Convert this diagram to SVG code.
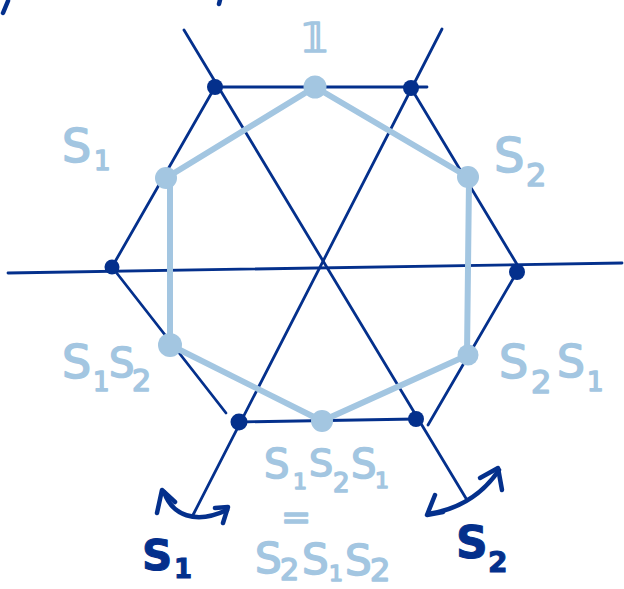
<svg xmlns="http://www.w3.org/2000/svg" width="624" height="589" viewBox="0 0 624 589">
<style>
.dk{stroke:#04308c;stroke-width:2.8;fill:none;stroke-linecap:round}
.lt{stroke:#a3c6e1;stroke-width:6;fill:none;stroke-linecap:round}
.dd{fill:#04308c}
.ld{fill:#a3c6e1}
.arr{stroke:#04308c;stroke-width:4.5;fill:none;stroke-linecap:round;stroke-linejoin:round}
.tl{fill:#a3c6e1;stroke:#a3c6e1;stroke-width:1.6;stroke-linejoin:round;font-family:"DejaVu Sans","Liberation Sans",sans-serif}
.td{fill:#04308c;stroke:#04308c;stroke-width:1;font-family:"DejaVu Sans","Liberation Sans",sans-serif;font-weight:bold}
</style>
<rect width="624" height="589" fill="#ffffff"/>
<g id="fragments">
<path class="arr" d="M8 1 L3 13" stroke-width="4"/>
<path class="arr" d="M220 0 L219 4" stroke-width="4"/>
</g>
<g id="connectors">
<path class="dk" d="M8 273 L622 263"/>
<path class="dk" d="M184 30 L467 500"/>
<path class="dk" d="M442 29 L193 515"/>
<path class="dk" d="M215 87 L427 87"/>
<path class="dk" d="M215 87 L112 267"/>
<path class="dk" d="M112 267 L226 413"/>
<path class="dk" d="M239 422 L416 419"/>
<path class="dk" d="M411 88 L518 266"/>
<path class="dk" d="M517 272 L428 425"/>
<path class="lt" d="M315 87 L166 178"/>
<path class="lt" d="M315 87 L468 177"/>
<path class="lt" d="M170 180 L170 345"/>
<path class="lt" d="M469 180 L467 355"/>
<path class="lt" d="M170 345 L322 421"/>
<path class="lt" d="M468 355 L322 421"/>
<path class="arr" d="M164 492 C172 515 195 525 227 510"/>
<path class="arr" d="M157 513 L162 490 L175 502"/>
<path class="arr" d="M215 508 L228 507 L223 523"/>
<path class="arr" d="M428 514 C455 510 480 498 499 470"/>
<path class="arr" d="M435 495 L427 515 L443 512"/>
<path class="arr" d="M480 478 L498 468 L502 490"/>
</g>
<g id="v1"><circle class="dd" cx="215" cy="87" r="8"/></g>
<g id="v2"><circle class="dd" cx="411" cy="88" r="8"/></g>
<g id="v3"><circle class="dd" cx="112" cy="267" r="7.5"/></g>
<g id="v4"><circle class="dd" cx="517" cy="272" r="8"/></g>
<g id="v5"><circle class="dd" cx="239" cy="422" r="8.5"/></g>
<g id="v6"><circle class="dd" cx="416" cy="419" r="8"/></g>
<g id="e"><circle class="ld" cx="315" cy="87" r="11.5"/><text class="tl" x="315" y="52" font-size="40" text-anchor="middle">𝟙</text></g>
<g id="s1"><circle class="ld" cx="166" cy="178" r="11"/><text class="tl" x="62" y="162" font-size="46">S</text><text class="tl" x="94" y="170" font-size="26">1</text></g>
<g id="s2"><circle class="ld" cx="468" cy="177" r="11"/><text class="tl" x="494" y="172" font-size="48">S</text><text class="tl" x="526" y="186" font-size="32">2</text></g>
<g id="s1s2"><circle class="ld" cx="170" cy="345" r="12"/><text class="tl" x="62" y="378" font-size="46">S</text><text class="tl" x="93" y="391" font-size="26">1</text><text class="tl" x="109" y="377" font-size="40">S</text><text class="tl" x="132" y="391" font-size="30">2</text></g>
<g id="s2s1"><circle class="ld" cx="468" cy="355" r="10.5"/><text class="tl" x="499" y="378" font-size="46">S</text><text class="tl" x="531" y="393" font-size="32">2</text><text class="tl" x="557" y="377" font-size="44">S</text><text class="tl" x="587" y="391" font-size="26">1</text></g>
<g id="s1s2s1"><circle class="ld" cx="322" cy="421" r="11"/>
<text class="tl" x="264" y="478" font-size="40">S</text><text class="tl" x="293" y="489" font-size="22">1</text><text class="tl" x="309" y="476" font-size="38">S</text><text class="tl" x="333" y="492" font-size="26">2</text><text class="tl" x="351" y="478" font-size="40">S</text><text class="tl" x="375" y="488" font-size="22">1</text>
<text class="tl" x="296" y="529" font-size="36" text-anchor="middle">=</text>
<text class="tl" x="255" y="573" font-size="42">S</text><text class="tl" x="280" y="580" font-size="30">2</text><text class="tl" x="302" y="574" font-size="42">S</text><text class="tl" x="329" y="581" font-size="22">1</text><text class="tl" x="345" y="575" font-size="42">S</text><text class="tl" x="370" y="581" font-size="32">2</text></g>
<g id="lab1"><text class="td" x="142" y="570" font-size="42">S</text><text class="td" x="174" y="578" font-size="26">1</text></g>
<g id="lab2"><text class="td" x="456" y="558" font-size="44">S</text><text class="td" x="488" y="572" font-size="28">2</text></g>
</svg>
